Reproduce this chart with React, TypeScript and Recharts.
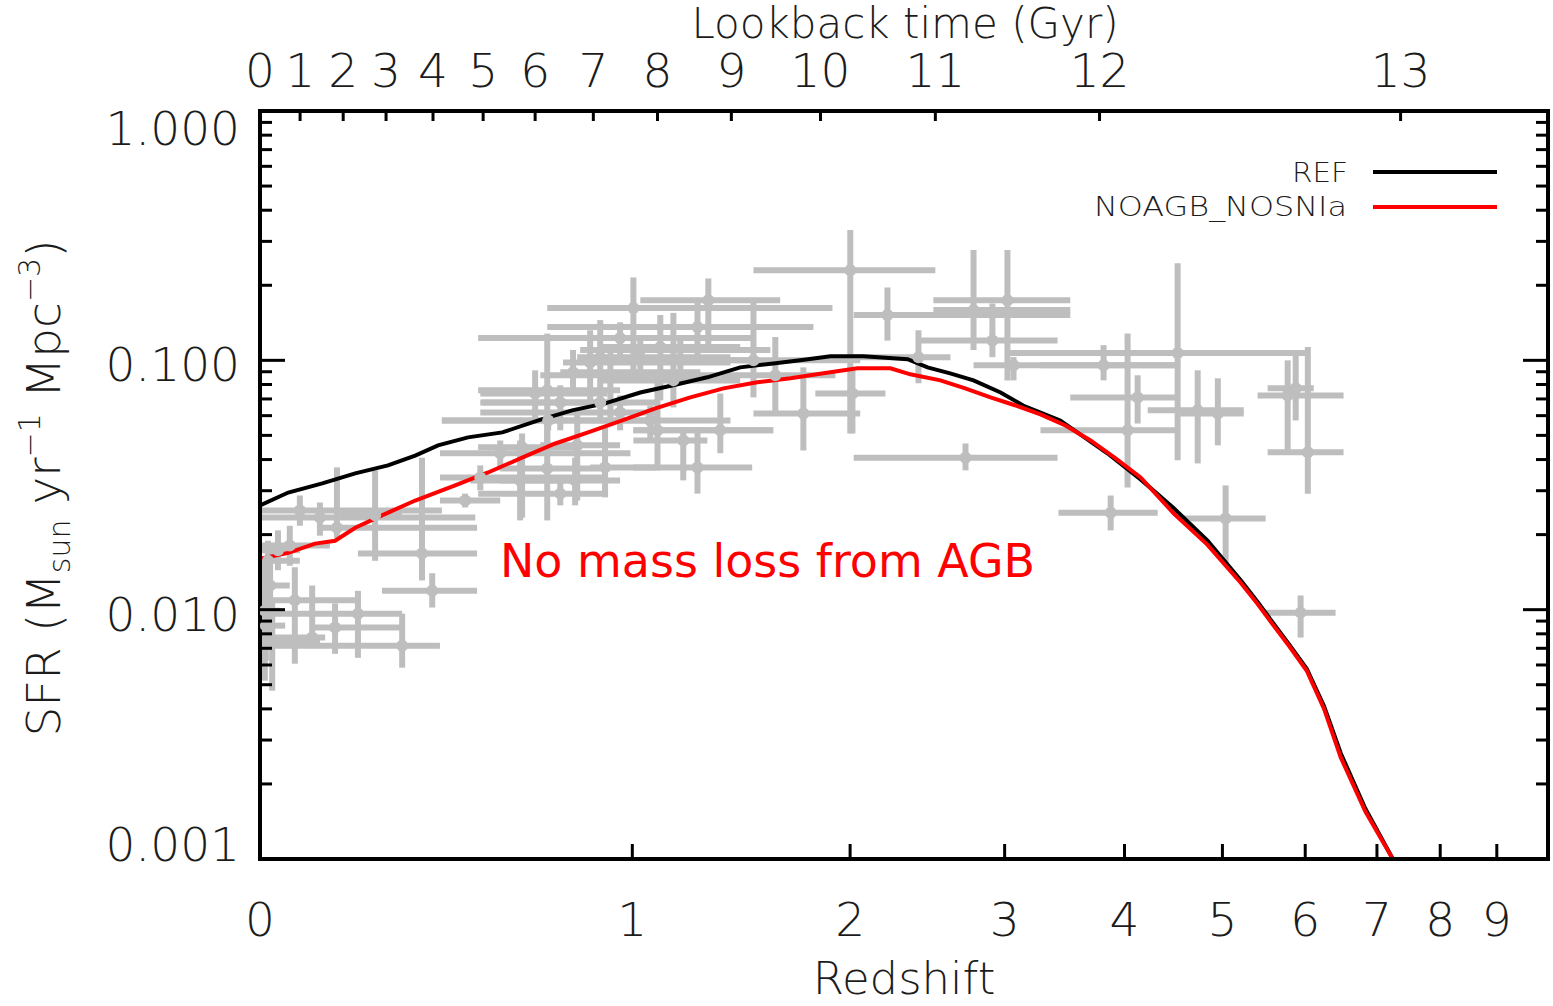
import React from "react";
import {
  ComposedChart,
  Scatter,
  Line,
  XAxis,
  YAxis,
  ErrorBar,
  Customized,
} from "recharts";

// model curves (redshift, SFR density)
const refZ = [0, 0.054, 0.123, 0.194, 0.269, 0.335, 0.393, 0.473, 0.57, 0.679, 0.788, 0.901, 1.03, 1.158, 1.3, 1.445, 1.6, 1.734, 1.892, 2.075, 2.339, 2.465, 2.614, 2.775, 2.97, 3.14, 3.436, 3.843, 4.152, 4.481, 4.836, 5.21, 5.4, 5.6, 5.8, 6.02, 6.25, 6.48, 6.83, 7.24];
const refSfr = [0.0262, 0.0295, 0.0321, 0.0352, 0.0379, 0.0415, 0.0456, 0.0491, 0.0514, 0.0574, 0.063, 0.0672, 0.0743, 0.0794, 0.0855, 0.0937, 0.0972, 0.1, 0.1038, 0.1038, 0.101, 0.0937, 0.0887, 0.0831, 0.0743, 0.0659, 0.0574, 0.0424, 0.0333, 0.0255, 0.0189, 0.0131, 0.0108, 0.00879, 0.0072, 0.0058, 0.0041, 0.00265, 0.00159, 0.001];

const noagbZ = [0, 0.054, 0.108, 0.15, 0.194, 0.255, 0.335, 0.438, 0.529, 0.629, 0.733, 0.842, 0.963, 1.088, 1.228, 1.37, 1.524, 1.685, 1.855, 2.041, 2.234, 2.356, 2.549, 2.717, 2.896, 3.083, 3.276, 3.479, 3.694, 3.918, 4.152, 4.481, 4.836, 5.21, 5.4, 5.6, 5.8, 6.02, 6.25, 6.48, 6.83, 7.24];
const noagbSfr = [0.016, 0.0169, 0.0184, 0.0189, 0.0213, 0.0239, 0.0274, 0.0315, 0.0355, 0.0407, 0.0464, 0.0514, 0.0574, 0.0642, 0.071, 0.0772, 0.0817, 0.0848, 0.0887, 0.0929, 0.0929, 0.0879, 0.0831, 0.0772, 0.071, 0.0659, 0.0607, 0.0548, 0.0477, 0.0404, 0.0339, 0.0243, 0.0182, 0.0128, 0.0106, 0.00863, 0.0071, 0.00569, 0.004, 0.00255, 0.00155, 0.001];

// observational compilation (grey crosses)
const obsZ = [0.077, 0.118, 0.154, 0.239, 0.352, 0.378, 0.067, 0.2, 0.303, 0.15, 0.102, 0.015, 0.019, 0.023, 0.009, 0.011, 0.034, 0.057,
  0.707, 0.71, 0.629, 0.798, 0.901, 0.749, 0.884, 0.955, 0.465, 0.564, 0.507, 0.707, 1.004, 1.258, 1.304, 0.955, 0.884, 0.849, 1.03, 1.107, 1.187, 0.791, 0.92,
  1.506, 1.61, 1.159, 0.669, 0.749, 1.068, 1.096, 1.356, 1.199, 1.258, 1.75, 2.013, 2.001, 2.216, 2.775, 3.021, 2.91, 2.407, 2.719, 3.067, 3.809, 4.029, 4.124,
  4.52, 4.73, 4.949, 5.775, 5.877, 6.034, 3.873, 5.036, 5.94, 0.623, 0.805];
const obsZLo = [0.003, 0.003, 0.114, 0.161, 0.2, 0.255, 0.003, 0.003, 0.003, 0.102, 0.003, 0.003, 0.003, 0.003, 0.002, 0.003, 0.003, 0.003,
  0.564, 0.403, 0.501, 0.564, 0.849, 0.501, 0.512, 0.507, 0.398, 0.398, 0.398, 0.501, 0.707, 0.707, 1.03, 0.501, 0.805, 0.758, 0.815, 0.884, 0.849, 0.749, 0.685,
  1.27, 1.356, 0.884, 0.507, 0.507, 0.403, 1.004, 1.004, 1.004, 1.004, 1.506, 1.812, 1.506, 2.02, 2.503, 2.503, 2.419, 2.02, 2.02, 2.775, 3.276, 3.276, 3.52,
  3.021, 4.221, 4.547, 5.406, 5.527, 5.527, 3.422, 4.547, 5.478, 0.479, 0.685];
const obsZHi = [0.403, 0.493, 0.498, 0.303, 0.498, 0.498, 0.194, 0.303, 0.398, 0.303, 0.129, 0.077, 0.057, 0.118, 0.038, 0.048, 0.077, 0.139,
  0.884, 1.088, 0.815, 0.955, 1.088, 0.901, 1.088, 1.088, 0.564, 0.993, 0.909, 0.955, 1.903, 1.802, 1.634, 1.506, 1.401, 1.401, 1.586, 1.445, 1.538, 1.27, 1.356,
  2.057, 1.919, 1.445, 0.909, 0.981, 1.401, 1.6, 1.6, 1.3, 1.5, 2.057, 2.204, 2.516, 3.52, 3.52, 3.52, 3.414, 2.616, 3.414, 4.547, 4.52, 4.52, 4.52,
  6.034, 5.243, 5.243, 6.518, 6.112, 6.518, 4.319, 5.503, 6.407, 0.815, 0.955];
const obsSfr = [0.025, 0.0234, 0.0213, 0.0239, 0.0168, 0.0119, 0.0109, 0.00964, 0.00717, 0.00848, 0.00773, 0.0157, 0.0125, 0.00751, 0.0099, 0.00863, 0.0173, 0.0181,
  0.0368, 0.0574, 0.0448, 0.033, 0.0372, 0.0292, 0.0678, 0.0618, 0.0274, 0.0424, 0.0339, 0.0758, 0.162, 0.136, 0.174, 0.123, 0.103, 0.098, 0.11, 0.113, 0.1, 0.0895, 0.0871,
  0.1, 0.0871, 0.0831, 0.0736, 0.0678, 0.0574, 0.0524, 0.0524, 0.0477, 0.0372, 0.0612, 0.0736, 0.23, 0.152, 0.159, 0.174, 0.12, 0.103, 0.0407, 0.0955, 0.0955, 0.0524, 0.071,
  0.107, 0.063, 0.0612, 0.0723, 0.0772, 0.0428, 0.0245, 0.0232, 0.00973, 0.033, 0.0456];
const obsSfrLo = [0.0217, 0.0198, 0.0194, 0.0157, 0.0131, 0.0102, 0.00607, 0.00641, 0.00585, 0.00665, 0.0073, 0.0109, 0.00751, 0.00473, 0.00519, 0.00624, 0.0144, 0.015,
  0.0228, 0.0524, 0.0234, 0.0262, 0.0282, 0.0262, 0.0574, 0.0524, 0.0257, 0.0362, 0.0301, 0.0424, 0.0831, 0.1, 0.113, 0.105, 0.0736, 0.0691, 0.0831, 0.0691, 0.0831, 0.0723, 0.0574,
  0.071, 0.0612, 0.0647, 0.0574, 0.0524, 0.0477, 0.0362, 0.0424, 0.033, 0.0292, 0.0435, 0.0509, 0.0509, 0.12, 0.11, 0.0831, 0.103, 0.0809, 0.0362, 0.0831, 0.0831, 0.0309, 0.0558,
  0.0397, 0.0386, 0.0456, 0.0435, 0.0574, 0.0292, 0.0208, 0.0153, 0.00773, 0.0228, 0.0274];
const obsSfrHi = [0.0287, 0.0269, 0.0372, 0.0362, 0.0407, 0.014, 0.0148, 0.0119, 0.00964, 0.0106, 0.0125, 0.0189, 0.0173, 0.0109, 0.0157, 0.0119, 0.0208, 0.0217,
  0.059, 0.063, 0.0509, 0.0407, 0.0538, 0.033, 0.0758, 0.0723, 0.0292, 0.0477, 0.0379, 0.128, 0.215, 0.174, 0.213, 0.142, 0.145, 0.132, 0.126, 0.152, 0.12, 0.11, 0.115,
  0.177, 0.124, 0.155, 0.0912, 0.0794, 0.0659, 0.0887, 0.0736, 0.0538, 0.0538, 0.0937, 0.0912, 0.333, 0.196, 0.277, 0.277, 0.169, 0.132, 0.0464, 0.103, 0.115, 0.128, 0.0871,
  0.245, 0.0912, 0.0847, 0.1, 0.105, 0.113, 0.0287, 0.0315, 0.0114, 0.0477, 0.063];

// axis ticks
const redshiftTicks = [0, 1, 2, 3, 4, 5, 6, 7, 8, 9];
const lookbackGyr = [0, 1, 2, 3, 4, 5, 6, 7, 8, 9, 10, 11, 12, 13];
const lookbackZ = [0, 0.0775, 0.1675, 0.2645, 0.38, 0.515, 0.669, 0.86, 1.096, 1.405, 1.839, 2.516, 3.773, 7.36];
const sfrMajor = [0.001, 0.01, 0.1, 1];
const sfrMinor = [0.002, 0.003, 0.004, 0.005, 0.006, 0.007, 0.008, 0.009, 0.02, 0.03, 0.04, 0.05, 0.06, 0.07, 0.08, 0.09, 0.2, 0.3, 0.4, 0.5, 0.6, 0.7, 0.8, 0.9];

const lz = (z: number) => Math.log10(1 + z);
const X_MAX = lz(10);

const refData = refZ.map((z, i) => ({ x: lz(z), y: refSfr[i] }));
const noagbData = noagbZ.map((z, i) => ({ x: lz(z), y: noagbSfr[i] }));
const obsData = obsZ.map((z, i) => ({
  x: lz(z),
  y: obsSfr[i],
  ex: [lz(z) - lz(obsZLo[i]), lz(obsZHi[i]) - lz(z)],
  ey: [obsSfr[i] - obsSfrLo[i], obsSfrHi[i] - obsSfr[i]],
}));

const sfrTicks = [...sfrMajor, ...sfrMinor].sort((a, b) => a - b);
const zTicksX = redshiftTicks.map(lz);
const lookbackX = lookbackZ.map(lz);

const FONT = "'DejaVu Sans', 'Liberation Sans', sans-serif";
const INK = "#1c1c1c";
const GREY = "#bebebe";
const FS = 47;

const frame = { stroke: "#000", strokeWidth: 4, strokeLinecap: "square" as const };

function LeftTick(p: any) {
  const { x, y, payload } = p;
  const v = payload.value;
  const major = sfrMajor.includes(v);
  const off = v === 1 ? 17 : v === 0.001 ? -15 : 4;
  return (
    <g>
      <line x1={x} x2={x + (major ? 25 : 12)} y1={y} y2={y} stroke="#000" strokeWidth={3} />
      {major && (
        <text x={x - 20} y={y + off + 17} textAnchor="end" fontFamily={FONT} fontWeight={200} fontSize={FS} fill={INK}>
          {v.toFixed(3)}
        </text>
      )}
    </g>
  );
}

function RightTick(p: any) {
  const { x, y, payload } = p;
  const major = sfrMajor.includes(payload.value);
  return <line x1={x} x2={x - (major ? 25 : 12)} y1={y} y2={y} stroke="#000" strokeWidth={3} />;
}

function BottomTick(p: any) {
  const { x, y, payload } = p;
  const z = Math.round(Math.pow(10, payload.value) - 1);
  return (
    <g>
      <line x1={x} x2={x} y1={y} y2={y - 15} stroke="#000" strokeWidth={3} />
      <text x={x} y={y + 77} textAnchor="middle" fontFamily={FONT} fontWeight={200} fontSize={FS} fill={INK}>
        {z}
      </text>
    </g>
  );
}

function TopTick(p: any) {
  const { x, y, payload } = p;
  const i = lookbackX.findIndex((t) => Math.abs(t - payload.value) < 1e-9);
  return (
    <g>
      <line x1={x} x2={x} y1={y} y2={y + 10} stroke="#000" strokeWidth={3} />
      <text x={x} y={y - 24} textAnchor="middle" fontFamily={FONT} fontWeight={200} fontSize={FS} fill={INK}>
        {lookbackGyr[i]}
      </text>
    </g>
  );
}

function Overlay() {
  const t = { fontFamily: FONT, fontWeight: 200, fill: INK } as const;
  return (
    <g>
      <text x={905} y={38} textAnchor="middle" fontSize={42} {...t}>Lookback time (Gyr)</text>
      <text x={904} y={994} textAnchor="middle" fontSize={45} {...t}>Redshift</text>
      <text x={60} y={488} transform="rotate(-90, 60, 488)" textAnchor="middle" fontSize={FS} {...t}>
        SFR (M<tspan fontSize={30} dy={10}>sun</tspan>
        <tspan dy={-10}> yr</tspan>
        <tspan fontSize={30} dy={-20}>−1</tspan>
        <tspan dy={20}> Mpc</tspan>
        <tspan fontSize={30} dy={-20}>−3</tspan>
        <tspan dy={20}>)</tspan>
      </text>
      {/* legend */}
      <text x={1348} y={182} textAnchor="end" fontSize={27} textLength={56} lengthAdjust="spacingAndGlyphs" {...t}>REF</text>
      <line x1={1373} x2={1497} y1={172} y2={172} stroke="#000" strokeWidth={4} />
      <text x={1347} y={216} textAnchor="end" fontSize={27} textLength={253} lengthAdjust="spacingAndGlyphs" {...t}>NOAGB_NOSNIa</text>
      <line x1={1373} x2={1497} y1={207} y2={207} stroke="#ff0000" strokeWidth={4} />
      {/* annotation */}
      <text x={500} y={577} fontSize={46} fontFamily={FONT} fill="#ff0000" textLength={535} lengthAdjust="spacingAndGlyphs">
        No mass loss from  AGB
      </text>
    </g>
  );
}

export default function App() {
  return (
    <div style={{ position: "absolute", left: 0, top: 0, width: 1553, height: 1006, background: "#fff" }}>
      <ComposedChart width={1553} height={1006} margin={{ top: 0, right: 0, bottom: 0, left: 0 }}>
        <XAxis
          xAxisId="b"
          type="number"
          dataKey="x"
          domain={[0, X_MAX]}
          allowDataOverflow
          ticks={zTicksX}
          interval={0}
          height={147}
          tickSize={0}
          tickMargin={0}
          tickLine={false}
          axisLine={frame}
          tick={(p: any) => <BottomTick {...p} />}
        />
        <XAxis
          xAxisId="t"
          orientation="top"
          type="number"
          dataKey="x"
          domain={[0, X_MAX]}
          allowDataOverflow
          ticks={lookbackX}
          interval={0}
          height={111}
          tickSize={0}
          tickMargin={0}
          tickLine={false}
          axisLine={frame}
          tick={(p: any) => <TopTick {...p} />}
        />
        <YAxis
          yAxisId="l"
          type="number"
          dataKey="y"
          scale="log"
          domain={[0.001, 1]}
          allowDataOverflow
          ticks={sfrTicks}
          interval={0}
          width={260}
          tickSize={0}
          tickMargin={0}
          tickLine={false}
          axisLine={frame}
          tick={(p: any) => <LeftTick {...p} />}
        />
        <YAxis
          yAxisId="r"
          orientation="right"
          type="number"
          scale="log"
          domain={[0.001, 1]}
          allowDataOverflow
          ticks={sfrTicks}
          interval={0}
          width={5}
          tickSize={0}
          tickMargin={0}
          tickLine={false}
          axisLine={frame}
          tick={(p: any) => <RightTick {...p} />}
        />
        <Scatter
          data={obsData}
          xAxisId="b"
          yAxisId="l"
          dataKey="y"
          fill={GREY}
          isAnimationActive={false}
          shape={(p: any) => <circle cx={p.cx} cy={p.cy} r={6} fill={GREY} />}
        >
          <ErrorBar dataKey="ex" direction="x" width={0} stroke={GREY} strokeWidth={6} isAnimationActive={false} />
          <ErrorBar dataKey="ey" direction="y" width={0} stroke={GREY} strokeWidth={6} isAnimationActive={false} />
        </Scatter>
        <Line data={refData} xAxisId="b" yAxisId="l" dataKey="y" type="linear" stroke="#000" strokeWidth={4} dot={false} isAnimationActive={false} />
        <Line data={noagbData} xAxisId="b" yAxisId="l" dataKey="y" type="linear" stroke="#ff0000" strokeWidth={4} dot={false} isAnimationActive={false} />
        <Customized component={Overlay} />
      </ComposedChart>
    </div>
  );
}
